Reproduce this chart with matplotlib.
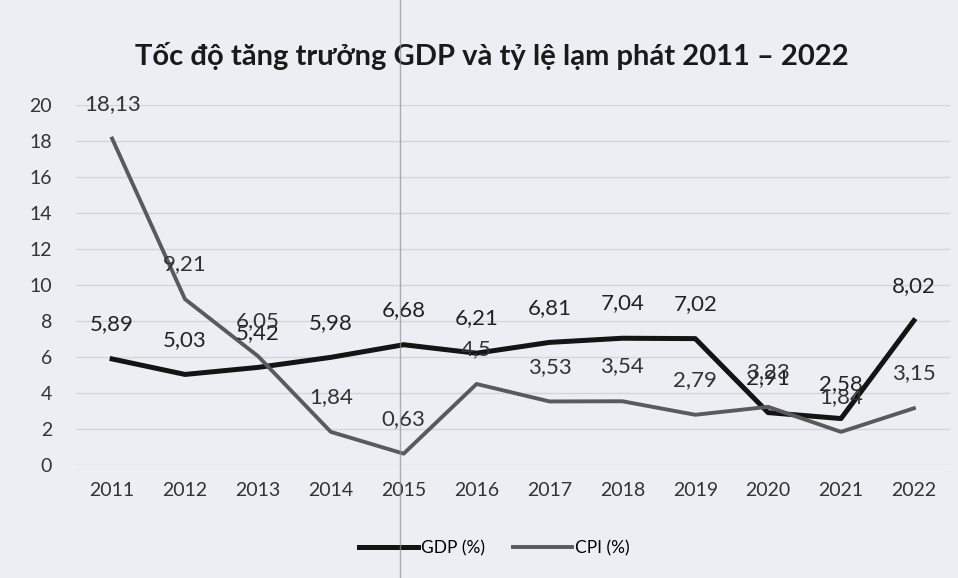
import matplotlib.pyplot as plt
from matplotlib.lines import Line2D

plt.rcParams['font.family'] = ['Lato', 'DejaVu Sans']

# ---------------------------------------------------------------------------
# Data
# ---------------------------------------------------------------------------
years = ['2011', '2012', '2013', '2014', '2015', '2016',
         '2017', '2018', '2019', '2020', '2021', '2022']
gdp = [5.89, 5.03, 5.42, 5.98, 6.68, 6.21, 6.81, 7.04, 7.02, 2.91, 2.58, 8.02]
cpi = [18.13, 9.21, 6.05, 1.84, 0.63, 4.5, 3.53, 3.54, 2.79, 3.23, 1.84, 3.15]

bg = '#eceef4'

fig = plt.figure(figsize=(9.58, 5.78), dpi=100, facecolor=bg)
ax = fig.add_axes([0.079, 0.1955, 0.913, 0.623], facecolor=bg)

x = range(len(years))
ax.plot(x, gdp, color='#141414', linewidth=3.6, label='GDP (%)', zorder=3)
ax.plot(x, cpi, color='#5a5a5e', linewidth=2.8, label='CPI (%)', zorder=3)


def fmt(v):
    return f'{v:g}'.replace('.', ',')


# data labels above each point, as in the spreadsheet chart
for xi, v in zip(x, gdp):
    ax.annotate(fmt(v), (xi, v), xytext=(0, 25), textcoords='offset points',
                ha='center', va='center', fontsize=16, color='#222222')
for xi, v in zip(x, cpi):
    ax.annotate(fmt(v), (xi, v), xytext=(0, 25), textcoords='offset points',
                ha='center', va='center', fontsize=16, color='#333333')

ax.set_xlim(-0.5, len(years) - 0.5)
ax.set_ylim(0, 20)
ax.set_yticks(range(0, 21, 2))
ax.set_xticks(list(x))
ax.set_xticklabels(years)
ax.tick_params(axis='both', length=0, labelsize=14, colors='#333333')
ax.tick_params(axis='x', pad=12)
ax.tick_params(axis='y', pad=17)
ax.grid(axis='y', color='#d3d5dc', linewidth=1.0)
for s in ax.spines.values():
    s.set_visible(False)

fig.suptitle('Tốc độ tăng trưởng GDP và tỷ lệ lạm phát 2011 – 2022',
             x=0.513, y=0.928, fontsize=21, fontweight='bold', color='#1a1a1a')

fig.legend(loc='center', bbox_to_anchor=(0.516, 0.052), ncol=2, frameon=False,
           fontsize=12.5, handlelength=3.4, columnspacing=1.6, handletextpad=0.2)

# faint fold line of the scanned page
fig.add_artist(Line2D([0.418, 0.418], [0, 1], transform=fig.transFigure,
                      color='#8e9098', linewidth=1.0, alpha=0.7, zorder=10))

plt.savefig('out.png', dpi=100, facecolor=bg)
